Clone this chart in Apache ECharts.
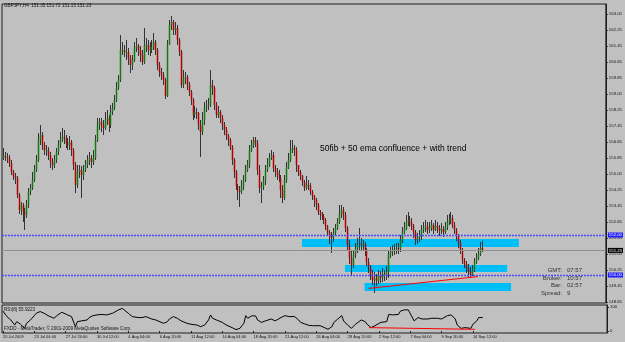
<!DOCTYPE html>
<html>
<head>
<meta charset="utf-8">
<script src="https://cdn.jsdelivr.net/npm/echarts@6/dist/echarts.min.js"></script>
<style>
  html, body { margin: 0; padding: 0; background: #c0c0c0; }
  #chart { width: 625px; height: 342px; }
</style>
</head>
<body>
<div id="chart"></div>
<script>
// GBPJPY H4, 20 Jul 2009 .. 15 Sep 2009
const firstOpen = 155.85;
const closes = [
  155.95,155.90,155.85,155.60,155.15,154.95,154.85,154.00,153.25,153.50,
  153.15,153.00,153.50,154.15,154.35,154.75,155.25,155.75,156.75,157.00,
  156.50,156.25,156.25,156.00,155.65,155.50,155.75,156.15,156.50,156.75,
  156.90,156.85,156.60,156.50,156.65,156.25,155.50,154.50,155.15,155.25,
  155.00,155.25,155.50,155.75,155.85,155.65,155.85,156.75,157.50,157.65,
  157.50,157.35,157.75,157.85,157.50,158.15,158.35,158.75,159.35,159.75,
  161.25,161.25,161.15,161.15,160.85,160.50,160.75,161.35,161.45,161.25,
  161.00,160.65,161.50,161.50,161.25,161.25,161.40,161.65,161.25,160.50,
  160.15,160.00,159.75,158.95,161.50,162.50,162.65,162.25,162.35,161.75,
  161.15,159.50,159.85,159.90,159.50,159.15,158.75,158.00,158.15,158.10,
  157.50,157.15,157.75,158.35,158.45,158.50,159.50,159.35,158.50,158.00,
  158.15,157.85,157.50,157.25,156.95,156.75,156.40,155.75,155.15,154.45,
  154.25,154.15,154.45,154.75,155.25,155.50,156.25,156.50,156.75,156.60,
  155.25,154.35,154.40,154.75,155.25,155.50,155.85,156.00,155.35,155.15,
  155.00,154.85,154.25,153.85,154.75,155.35,155.75,156.25,156.35,156.25,
  155.50,155.15,154.95,154.65,154.35,154.50,154.45,154.15,153.95,153.75,
  153.50,153.15,153.00,152.95,152.75,152.45,152.15,151.95,151.85,152.10,
  152.35,152.65,153.05,153.25,153.00,152.35,151.50,150.85,150.50,151.00,
  151.35,151.50,151.55,151.50,151.55,151.25,150.65,150.35,150.00,149.75,
  149.85,149.70,150.00,149.85,150.05,149.95,150.15,151.00,151.15,151.20,
  151.25,151.35,151.30,151.75,152.15,152.35,152.65,152.75,152.65,152.45,
  152.15,151.75,151.85,151.95,152.25,152.35,152.45,152.25,152.35,152.50,
  152.25,152.45,152.35,152.20,152.30,152.15,152.40,152.65,152.75,152.85,
  152.50,152.25,151.95,151.60,151.25,150.75,150.55,150.35,150.15,150.00,
  150.25,150.65,150.85,151.05,151.35,151.23
];
const highs = [
  156.35,156.15,156.10,156.00,155.75,155.25,155.10,154.95,154.10,153.65,
  153.60,153.35,153.75,154.35,154.55,155.15,155.50,156.00,157.10,157.50,
  157.15,156.65,156.50,156.40,156.15,155.85,156.00,156.35,156.75,157.15,
  157.35,157.25,157.00,156.85,156.95,156.75,156.35,155.65,155.50,155.50,
  155.45,155.50,155.75,156.00,156.15,156.00,156.25,157.00,157.85,157.85,
  157.85,157.75,158.15,158.25,158.00,158.50,158.60,159.00,159.65,160.00,
  162.00,161.65,161.50,161.75,161.35,161.00,161.00,161.65,161.85,161.55,
  161.45,161.25,162.35,161.85,161.75,161.65,161.75,162.10,161.75,161.35,
  160.65,160.35,160.15,159.85,161.75,162.75,162.95,162.75,162.65,162.50,
  161.85,161.25,160.25,160.15,160.00,159.65,159.25,158.85,158.45,158.35,
  158.15,157.75,158.15,158.65,158.75,158.85,160.25,159.75,159.45,158.65,
  158.45,158.25,158.00,157.65,157.40,157.05,156.85,156.50,155.85,155.25,
  154.55,154.45,154.75,155.00,155.50,155.75,156.50,156.75,156.90,156.90,
  156.75,155.50,154.65,154.95,155.50,155.85,156.10,156.25,156.15,155.50,
  155.35,155.25,155.00,154.50,155.00,155.65,156.10,156.75,156.75,156.50,
  156.40,155.50,155.25,155.00,154.75,154.95,154.75,154.60,154.25,154.00,
  153.85,153.60,153.25,153.15,153.05,152.85,152.50,152.25,152.15,152.35,
  152.55,152.85,153.50,153.50,153.40,153.15,152.45,151.75,151.25,151.25,
  151.60,151.85,152.35,151.85,151.75,151.65,151.35,150.85,150.50,150.25,
  150.15,150.05,150.25,150.20,150.35,150.25,150.45,151.25,151.40,151.50,
  151.55,151.60,151.60,152.00,152.40,152.65,153.00,153.15,152.95,152.85,
  152.55,152.25,152.10,152.25,152.50,152.65,152.75,152.65,152.65,152.75,
  152.60,152.75,152.65,152.50,152.60,152.45,152.65,153.00,153.05,153.15,
  153.00,152.65,152.35,152.05,151.75,151.35,150.85,150.70,150.55,150.40,
  150.50,150.85,151.10,151.35,151.65,151.72
];
const lows = [
  155.75,155.70,155.60,155.40,155.00,154.75,154.55,153.85,153.05,153.00,
  152.65,152.25,152.85,153.35,154.00,154.25,154.65,155.15,155.65,156.50,
  156.25,156.00,155.95,155.75,155.35,155.25,155.35,155.60,156.00,156.35,
  156.65,156.55,156.35,156.25,156.25,155.95,155.25,154.10,154.35,154.85,
  153.85,154.75,155.15,155.35,155.50,155.35,155.50,155.75,156.65,157.25,
  157.15,157.00,157.25,157.50,157.15,157.35,158.00,158.25,158.65,159.25,
  159.65,161.00,160.90,160.75,160.50,160.10,160.25,160.65,161.15,160.95,
  160.65,160.50,160.55,161.15,161.00,160.95,161.10,161.25,161.00,160.25,
  159.90,159.75,159.50,158.80,158.90,161.50,162.25,162.00,162.00,161.50,
  160.95,159.35,159.35,159.55,159.25,158.95,158.50,157.75,157.85,157.80,
  157.25,155.90,157.00,157.50,158.15,158.25,158.40,159.00,158.25,157.85,
  157.85,157.60,157.25,157.00,156.75,156.45,156.25,155.50,154.85,154.25,
  153.75,153.40,154.05,154.25,154.65,155.15,155.35,156.15,156.35,156.40,
  155.00,154.10,153.60,154.25,154.50,155.15,155.40,155.75,155.15,154.90,
  154.75,154.65,153.85,153.60,153.75,154.60,155.30,155.65,156.10,155.95,
  155.15,154.95,154.75,154.45,154.20,154.25,154.25,154.00,153.75,153.40,
  153.25,153.00,152.75,152.75,152.55,152.25,151.95,151.55,151.10,151.65,
  151.95,152.25,152.55,152.85,152.75,152.15,151.25,150.55,150.00,150.35,
  150.85,151.10,151.25,151.25,151.25,150.95,150.45,150.10,149.75,149.50,
  149.10,149.45,149.55,149.60,149.65,149.70,149.75,149.85,150.85,150.95,
  151.00,151.05,151.05,151.15,151.60,152.05,152.25,152.45,152.40,152.25,
  151.85,151.50,151.55,151.65,151.75,152.10,152.15,152.05,152.10,152.20,
  152.05,152.20,152.10,151.95,152.05,151.90,152.05,152.25,152.50,152.55,
  152.35,152.05,151.70,151.35,151.05,150.55,150.35,150.10,149.90,149.85,
  149.95,150.15,150.55,150.75,150.95,151.15
];

// time axis: 16 bars between labels, chart shifted left with empty slots on the right
const slotCount = 309;
const labelStep = 16;
const xLabels = ['20 Jul 2009', '23 Jul 04:00', '27 Jul 20:00', '30 Jul 12:00', '4 Aug 04:00', '6 Aug 20:00',
  '11 Aug 12:00', '14 Aug 04:00', '18 Aug 20:00', '21 Aug 12:00', '26 Aug 04:00', '28 Aug 20:00',
  '2 Sep 12:00', '7 Sep 04:00', '9 Sep 20:00', '14 Sep 12:00'];
const priceTicks = [148.65, 149.45, 150.25, 151.05, 151.85, 152.65, 153.45, 154.25, 155.05, 155.85,
  156.65, 157.45, 158.25, 159.05, 159.85, 160.65, 161.45, 162.25, 163.05];

// RSI(8) line, read at these bars
const rsiBars = [0,2,4,6,7,9,11,12,14,16,17,19,21,23,26,28,30,33,35,37,38,40,43,44,46,48,50,53,56,59,
  61,62,64,66,67,69,71,73,76,78,79,82,83,84,85,87,89,91,94,96,99,101,103,105,106,107,109,112,114,117,
  119,121,123,124,125,127,129,130,132,134,135,137,139,140,142,144,146,147,149,151,152,154,156,158,159,
  162,164,166,168,169,171,173,174,176,178,180,181,183,185,186,188,190,191,193,196,197,199,202,203,205,
  207,208,210,212,214,215,217,219,220,222,224,225,227,229,231,232,234,236,237,239,240,242,243,245];
const rsiValues = [83,60,46,25,39,28,11,32,46,64,74,81,74,64,53,67,78,67,60,18,39,42,46,56,64,67,69,67,74,88,
  94,92,74,60,67,56,56,60,50,46,39,32,28,39,50,60,53,42,32,28,25,18,25,46,67,53,46,36,25,14,
  6,11,32,64,53,63,63,46,36,42,50,50,42,46,56,64,60,67,60,46,36,30,24,22,18,
  22,15,7,18,36,50,64,42,25,11,28,36,46,39,28,14,22,28,36,39,69,67,69,83,88,
  88,81,42,56,50,56,50,53,50,53,50,42,64,67,50,25,11,14,7,11,28,42,56,56];

// drawn objects: horizontal levels, support/resistance zones [bar1, price1, bar2, price2], trend lines
const levels = [152.00, 150.00];
const zones = [[153, 151.80, 264, 151.40], [175, 150.50, 258, 150.15], [185, 149.60, 260, 149.20]];
const trendLine = [187, 149.33, 243, 149.92];
const rsiTrendLine = [187, 14, 241, 7];

const FONT = 'Liberation Sans, Arial, sans-serif';
const cats = Array.from({ length: slotCount }, (_, i) => String(i));
const candleData = closes.map((c, i) => [i, i ? closes[i - 1] : firstOpen, c, lows[i], highs[i]]);
const lastClose = closes[closes.length - 1];

function renderCandle(params, api) {
  const i = api.value(0);
  const o = api.value(1), c = api.value(2), lo = api.value(3), hi = api.value(4);
  const top = api.coord([i, hi]), bot = api.coord([i, lo]);
  const po = api.coord([i, o]), pc = api.coord([i, c]);
  const x = Math.round(top[0]) + 0.5;
  const y1 = Math.min(po[1], pc[1]), y2 = Math.max(po[1], pc[1]);
  return {
    type: 'group',
    children: [
      { type: 'line', shape: { x1: x, y1: top[1], x2: x, y2: bot[1] }, style: { stroke: '#333', lineWidth: 1 } },
      { type: 'rect', shape: { x: x - 0.75, y: y1, width: 1.5, height: Math.max(y2 - y1, 1) },
        style: { fill: c >= o ? '#137a13' : '#b00000' } }
    ]
  };
}

const axisLabelBox = (bg) => ({
  show: true, position: 'end', distance: 2, color: '#fff', backgroundColor: bg,
  fontSize: 4.3, fontFamily: FONT, padding: [1, 1, 0, 1],
  formatter: (p) => p.value.toFixed(2)
});

const chart = echarts.init(document.getElementById('chart'));
chart.setOption({
  animation: false,
  backgroundColor: '#c0c0c0',
  grid: [
    { left: 2, top: 4, right: 18, height: 299, show: true, borderColor: '#1e1e1e', borderWidth: 1 },
    { left: 2, top: 305, right: 18, height: 28, show: true, borderColor: '#1e1e1e', borderWidth: 1 }
  ],
  xAxis: [
    { type: 'category', gridIndex: 0, data: cats, boundaryGap: true,
      axisLine: { show: false }, axisTick: { show: false }, axisLabel: { show: false }, splitLine: { show: false } },
    { type: 'category', gridIndex: 1, data: cats, boundaryGap: true,
      axisLine: { show: false },
      axisTick: { show: true, length: 2, alignWithLabel: true, lineStyle: { color: '#222' },
        interval: (idx) => idx % labelStep === 0 && idx / labelStep < xLabels.length },
      axisLabel: { show: true, align: 'left', margin: 2, fontSize: 4, fontFamily: FONT, color: '#111',
        interval: (idx) => idx % labelStep === 0 && idx / labelStep < xLabels.length,
        formatter: (v, idx) => xLabels[idx / labelStep] || '' },
      splitLine: { show: false } }
  ],
  yAxis: [
    { type: 'value', gridIndex: 0, position: 'right', min: 148.60, max: 163.55,
      axisLine: { show: true, lineStyle: { color: '#1e1e1e' } },
      axisTick: { show: true, inside: false, length: 2, customValues: priceTicks, lineStyle: { color: '#222' } },
      axisLabel: { show: true, customValues: priceTicks, margin: 3, fontSize: 4.3, fontFamily: FONT, color: '#111',
        formatter: (v) => v.toFixed(2) },
      splitLine: { show: false } },
    { type: 'value', gridIndex: 1, position: 'right', min: -8.33, max: 108.33,
      axisLine: { show: true, lineStyle: { color: '#1e1e1e' } },
      axisTick: { show: true, length: 2, customValues: [0, 100], lineStyle: { color: '#222' } },
      axisLabel: { show: true, customValues: [0, 100], margin: 3, fontSize: 4.3, fontFamily: FONT, color: '#111' },
      splitLine: { show: false } }
  ],
  series: [
    {
      type: 'custom', name: 'GBPJPY', xAxisIndex: 0, yAxisIndex: 0, z: 3,
      renderItem: renderCandle,
      encode: { x: 0, y: [1, 2, 3, 4] },
      data: candleData,
      markArea: {
        silent: true,
        itemStyle: { color: '#00bff8', opacity: 1 },
        data: zones.map((z) => [{ coord: [z[0], z[1]] }, { coord: [z[2], z[3]] }])
      },
      markLine: {
        silent: true, symbol: ['none', 'none'], animation: false,
        lineStyle: { color: '#4a4aff', type: [2, 1], width: 1.4, opacity: 1 },
        label: axisLabelBox('#1c1cff'),
        data: levels.map((lv) => ({ yAxis: lv }))
      }
    },
    {
      type: 'line', name: 'bid', xAxisIndex: 0, yAxisIndex: 0, data: [], z: 4,
      markLine: {
        silent: true, symbol: ['none', 'none'], animation: false,
        lineStyle: { color: '#8e8e8e', type: 'solid', width: 1 },
        label: axisLabelBox('#000'),
        data: [{ yAxis: lastClose }]
      }
    },
    {
      type: 'line', name: 'trend', xAxisIndex: 0, yAxisIndex: 0, data: [], z: 5,
      markLine: {
        silent: true, symbol: ['none', 'none'], animation: false,
        lineStyle: { color: '#ff0000', type: 'solid', width: 1 },
        label: { show: false },
        data: [[{ coord: [trendLine[0], trendLine[1]] }, { coord: [trendLine[2], trendLine[3]] }]]
      }
    },
    {
      type: 'line', name: 'RSI(8)', xAxisIndex: 1, yAxisIndex: 1,
      data: rsiBars.map((b, k) => [b, rsiValues[k]]),
      symbol: 'none', lineStyle: { color: '#000', width: 1 },
      markLine: {
        silent: true, symbol: ['none', 'none'], animation: false,
        lineStyle: { color: '#ff0000', type: 'solid', width: 1 },
        label: { show: false },
        data: [[{ coord: [rsiTrendLine[0], rsiTrendLine[1]] }, { coord: [rsiTrendLine[2], rsiTrendLine[3]] }]]
      }
    }
  ],
  graphic: [
    { type: 'text', left: 4, top: 3, style: { text: 'GBPJPY,H4  151.35 151.72 151.15 151.23',
      font: '4.6px ' + FONT, fill: '#111' } },
    { type: 'text', left: 320, top: 144, style: { text: '50fib + 50 ema confluence + with trend',
      font: '8.5px ' + FONT, fill: '#000' } },
    { type: 'text', x: 562, y: 270, style: { text: 'GMT:', font: '6px ' + FONT, fill: '#333', align: 'right', verticalAlign: 'middle' } },
    { type: 'text', x: 562, y: 278, style: { text: 'Broker:', font: '6px ' + FONT, fill: '#333', align: 'right', verticalAlign: 'middle' } },
    { type: 'text', x: 562, y: 285.5, style: { text: 'Bar:', font: '6px ' + FONT, fill: '#333', align: 'right', verticalAlign: 'middle' } },
    { type: 'text', x: 562, y: 293, style: { text: 'Spread:', font: '6px ' + FONT, fill: '#333', align: 'right', verticalAlign: 'middle' } },
    { type: 'text', x: 567, y: 270, style: { text: '07:57', font: '6px ' + FONT, fill: '#333', verticalAlign: 'middle' } },
    { type: 'text', x: 567, y: 278, style: { text: '10:57', font: '6px ' + FONT, fill: '#333', verticalAlign: 'middle' } },
    { type: 'text', x: 567, y: 285.5, style: { text: '02:57', font: '6px ' + FONT, fill: '#333', verticalAlign: 'middle' } },
    { type: 'text', x: 567, y: 293, style: { text: '9', font: '6px ' + FONT, fill: '#333', verticalAlign: 'middle' } },
    { type: 'text', left: 4, top: 307.5, style: { text: 'RSI(8) 55.9223', font: '4.6px ' + FONT, fill: '#111' } },
    { type: 'text', left: 4, top: 326.5, style: { text: 'FXDD - MetaTrader, © 2001-2009 MetaQuotes Software Corp.',
      font: '4.6px ' + FONT, fill: '#111' } }
  ]
});
</script>
</body>
</html>
